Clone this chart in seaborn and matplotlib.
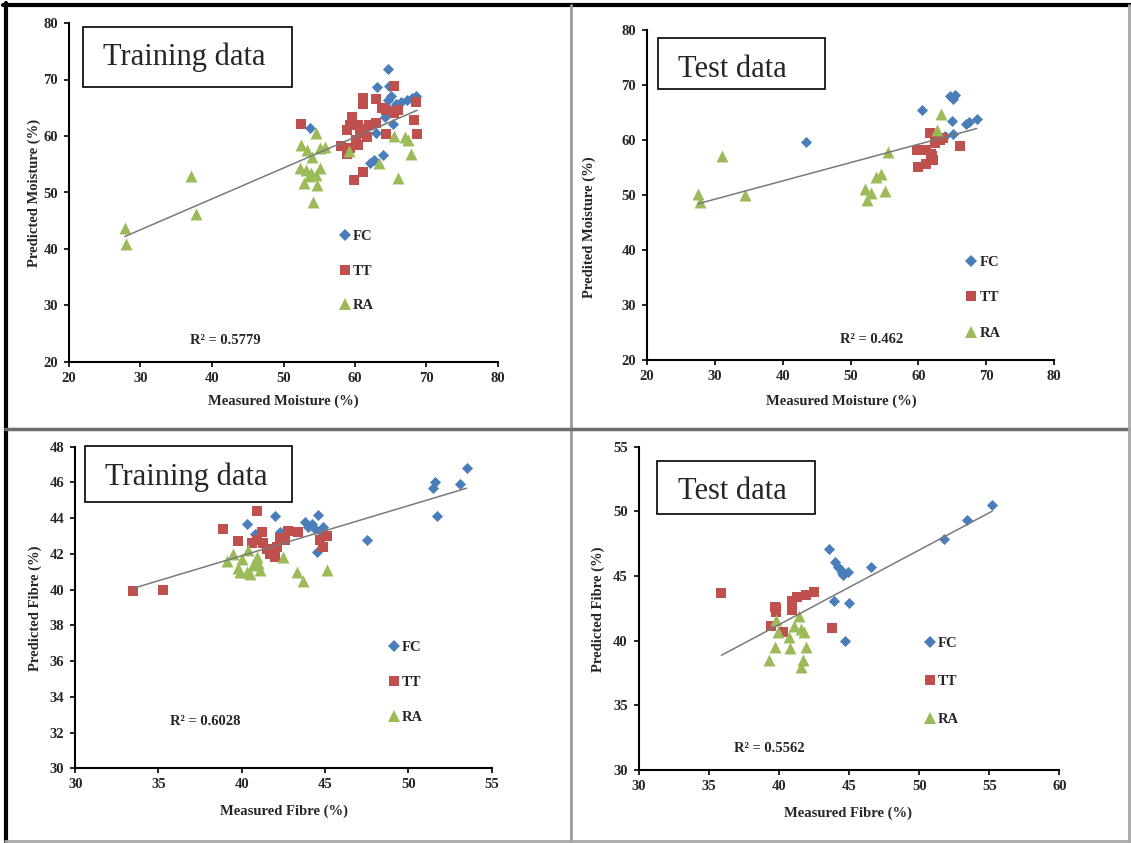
import numpy as np
import pandas as pd
import matplotlib
matplotlib.use("Agg")
import matplotlib.pyplot as plt
import seaborn as sns
from matplotlib.lines import Line2D
from matplotlib.patches import Rectangle

# ---------------- data ----------------
groups = ["FC", "TT", "RA"]

# Panel 1: moisture, training
m_train_fc_x = [64.6, 63.1, 64.7, 65.1, 64.6, 65.8, 66.5, 67.3, 68.0, 68.6, 65.5, 64.2, 65.3, 62.9, 63.9, 62.6, 62.1, 53.7]
m_train_fc_y = [71.8, 68.6, 68.8, 67.0, 66.3, 65.6, 66.0, 66.3, 66.8, 67.1, 64.9, 63.4, 62.2, 60.6, 56.6, 55.7, 55.3, 61.5]
m_train_tt_x = [52.4, 65.5, 61.1, 61.1, 63.0, 63.8, 64.3, 65.5, 66.0, 68.6, 68.2, 68.7, 64.3, 59.6, 59.3, 58.9, 60.4, 61.2,
                62.0, 63.0, 60.7, 61.7, 60.2, 58.1, 59.3, 60.4, 58.9, 61.1, 59.9, 61.2]
m_train_tt_y = [62.1, 68.8, 66.8, 65.6, 66.5, 65.0, 64.6, 64.0, 64.6, 66.0, 62.8, 60.4, 60.3, 63.3, 61.9, 61.0, 61.9, 61.3,
                61.9, 62.3, 60.5, 59.9, 59.3, 58.2, 57.8, 58.4, 56.9, 53.7, 52.2, 60.8]
m_train_ra_x = [27.8, 28.0, 37.0, 37.8, 52.4, 53.3, 54.6, 55.1, 55.8, 54.0, 52.3, 53.2, 53.8, 54.6, 55.1, 52.8, 53.5, 54.7,
                54.1, 59.1, 63.4, 65.5, 67.0, 67.4, 67.8, 66.0]
m_train_ra_y = [43.7, 40.9, 53.0, 46.2, 58.4, 57.6, 60.6, 57.8, 58.1, 56.3, 54.4, 54.0, 53.4, 53.1, 54.3, 51.7, 52.9, 51.3,
                48.4, 57.4, 55.3, 60.0, 59.9, 59.3, 56.8, 52.5]

# Panel 2: moisture, test
m_test_fc_x = [43.5, 60.5, 64.7, 65.4, 65.1, 64.9, 67.1, 67.5, 68.6, 65.1, 64.0]
m_test_fc_y = [59.6, 65.5, 68.0, 68.1, 67.5, 63.5, 62.9, 63.3, 63.8, 61.0, 60.7]
m_test_tt_x = [59.8, 60.0, 61.2, 61.2, 61.7, 62.0, 62.2, 62.5, 62.5, 63.2, 63.7, 66.2, 61.8]
m_test_tt_y = [58.1, 55.1, 55.7, 58.2, 61.2, 57.0, 56.4, 59.4, 60.0, 60.0, 60.3, 58.9, 57.5]
m_test_ra_x = [27.5, 27.8, 31.0, 34.4, 52.2, 53.0, 52.5, 53.8, 54.5, 55.1, 55.5, 62.7, 63.4]
m_test_ra_y = [50.2, 48.8, 57.0, 50.0, 51.0, 50.3, 49.1, 53.2, 53.8, 50.8, 57.9, 61.9, 64.8]

# Panel 3: fibre, training
f_train_fc_x = [53.5, 53.1, 51.6, 51.5, 51.7, 47.5, 44.6, 42.0, 40.3, 40.8, 43.8, 44.0, 44.2, 44.4, 44.7, 44.9, 44.5, 42.3]
f_train_fc_y = [46.8, 45.9, 46.0, 45.7, 44.1, 42.8, 44.2, 44.1, 43.7, 43.1, 43.8, 43.5, 43.7, 43.4, 43.3, 43.5, 42.1, 43.2]
f_train_tt_x = [33.5, 35.3, 38.9, 39.8, 40.9, 41.2, 41.3, 41.7, 42.1, 42.3, 42.8, 43.4, 44.7, 44.9, 45.1, 40.9, 40.6, 41.5,
                42.0, 42.6]
f_train_tt_y = [39.9, 40.0, 43.4, 42.7, 44.4, 43.2, 42.6, 42.0, 42.4, 42.9, 43.3, 43.2, 42.8, 42.4, 43.0, 42.8, 42.6, 42.3,
                41.8, 42.8]
f_train_ra_x = [39.5, 39.1, 40.4, 39.8, 40.3, 40.7, 41.1, 40.9, 42.5, 43.3, 43.7, 45.1, 40.0, 40.5, 39.9, 41.0]
f_train_ra_y = [42.0, 41.6, 42.2, 41.2, 41.0, 41.4, 41.1, 41.8, 41.8, 41.0, 40.5, 41.1, 41.7, 40.9, 41.0, 41.5]

# Panel 4: fibre, test
f_test_fc_x = [55.2, 53.4, 51.8, 46.6, 43.6, 44.0, 44.2, 44.4, 44.5, 44.9, 43.9, 45.0, 44.7, 44.6]
f_test_fc_y = [50.5, 49.3, 47.9, 45.7, 47.1, 46.1, 45.7, 45.5, 45.2, 45.3, 43.1, 42.9, 40.0, 45.1]
f_test_tt_x = [35.9, 39.7, 39.8, 39.4, 40.3, 40.9, 40.9, 41.3, 41.9, 42.5, 43.8, 40.9, 39.8]
f_test_tt_y = [43.7, 42.6, 42.2, 41.1, 40.7, 43.1, 42.5, 43.4, 43.5, 43.8, 41.0, 42.4, 42.5]
f_test_ra_x = [39.3, 39.8, 39.9, 39.7, 40.7, 40.8, 41.1, 41.4, 41.6, 41.8, 41.9, 41.7, 41.6]
f_test_ra_y = [38.5, 41.6, 40.7, 39.5, 40.3, 39.4, 41.1, 41.9, 40.9, 40.7, 39.5, 38.5, 38.0]

panel_titles = ["Training data", "Test data", "Training data", "Test data"]
x_labels = ["Measured Moisture (%)", "Measured Moisture (%)", "Measured Fibre (%)", "Measured Fibre (%)"]
y_labels = ["Predicted Moisture (%)", "Predited Moisture (%)", "Predicted Fibre (%)", "Predicted Fibre (%)"]
r2_labels = ["R\u00b2 = 0.5779", "R\u00b2 = 0.462", "R\u00b2 = 0.6028", "R\u00b2 = 0.5562"]
x_ticks = [[20, 30, 40, 50, 60, 70, 80], [20, 30, 40, 50, 60, 70, 80],
           [30, 35, 40, 45, 50, 55], [30, 35, 40, 45, 50, 55, 60]]
y_ticks = [[20, 30, 40, 50, 60, 70, 80], [20, 30, 40, 50, 60, 70, 80],
           [30, 32, 34, 36, 38, 40, 42, 44, 46, 48], [30, 35, 40, 45, 50, 55]]

panel_data = [
    (m_train_fc_x, m_train_fc_y, m_train_tt_x, m_train_tt_y, m_train_ra_x, m_train_ra_y),
    (m_test_fc_x, m_test_fc_y, m_test_tt_x, m_test_tt_y, m_test_ra_x, m_test_ra_y),
    (f_train_fc_x, f_train_fc_y, f_train_tt_x, f_train_tt_y, f_train_ra_x, f_train_ra_y),
    (f_test_fc_x, f_test_fc_y, f_test_tt_x, f_test_tt_y, f_test_ra_x, f_test_ra_y),
]

# ---------------- style ----------------
sns.set_style("ticks")
plt.rcParams["font.family"] = ["Liberation Serif", "DejaVu Serif"]
plt.rcParams["font.weight"] = "bold"

colors = {"FC": "#4A7EBB", "TT": "#C0504D", "RA": "#9BBB59"}
markers = {"FC": "D", "TT": "s", "RA": "^"}
sizes = {"FC": 32, "TT": 58, "RA": 74}
leg_sizes = {"FC": 6.0, "TT": 7.4, "RA": 8.4}

W, H = 1131, 843
fig = plt.figure(figsize=(W / 100, H / 100), dpi=100)
fig.patch.set_facecolor("white")

def fx(px):
    return px / W

def fy(py):
    return 1 - py / H

# axes extents in pixels: (left, right, top, bottom)
ax_px = [(69, 498, 23, 362), (647, 1054, 30, 360), (75.2, 491.5, 446.7, 768.3), (638.7, 1059.4, 446.7, 770)]
box_px = [(82.9, 291.9, 26.7, 86.7), (658.4, 825.5, 38.3, 89.3), (84.7, 291.9, 446, 502), (657.3, 815.4, 461, 514.3)]
title_px = [(103, 65), (678.4, 76.7), (105.4, 485), (678.4, 499.3)]
legend_px = [(339, 230), (965.6, 256), (388, 641), (924, 637)]
legend_spacing = [1.46, 1.51, 1.49, 1.68]
r2_px = [(225.4, 340.7), (871.6, 339.3), (205.4, 721.7), (769.3, 748.3)]
xlab_px = [(283.5, 395), (841, 395), (283.5, 805), (848.4, 807)]
ylab_px = [(41, 192.5), (596, 227), (42.5, 608), (605, 609.5)]

FS = 10.5

for i in range(4):
    l, r, t, b = ax_px[i]
    ax = fig.add_axes([fx(l), fy(b), (r - l) / W, (b - t) / H])
    fcx, fcy, ttx, tty, rax, ray = panel_data[i]
    df = pd.DataFrame({
        "x": list(fcx) + list(ttx) + list(rax),
        "y": list(fcy) + list(tty) + list(ray),
        "grp": ["FC"] * len(fcx) + ["TT"] * len(ttx) + ["RA"] * len(rax),
    })
    for g in groups:
        sub = df[df["grp"] == g]
        sns.scatterplot(data=sub, x="x", y="y", marker=markers[g], s=sizes[g], color=colors[g],
                        linewidth=0, ax=ax, legend=False, zorder=3)
    sns.regplot(data=df, x="x", y="y", scatter=False, ci=None, truncate=True, color="#7a7a7a",
                line_kws=dict(lw=1.1, zorder=4), ax=ax)

    ax.set_xlim(x_ticks[i][0], x_ticks[i][-1])
    ax.set_ylim(y_ticks[i][0], y_ticks[i][-1])
    ax.set_xticks(x_ticks[i])
    ax.set_yticks(y_ticks[i])
    ax.set_xticklabels([str(v) for v in x_ticks[i]], fontsize=FS, fontweight="bold")
    ax.set_yticklabels([str(v) for v in y_ticks[i]], fontsize=FS, fontweight="bold")
    ax.tick_params(axis="both", direction="out", length=3.5, width=1.2, color="black")
    ax.tick_params(axis="x", pad=3.5)
    ax.tick_params(axis="y", pad=4.5)
    sns.despine(ax=ax)
    for s in ["left", "bottom"]:
        ax.spines[s].set_linewidth(1.5)
        ax.spines[s].set_color("black")
    ax.set_facecolor("white")

    ax.set_xlabel(x_labels[i], fontsize=FS, fontweight="bold")
    ax.set_ylabel(y_labels[i], fontsize=FS, fontweight="bold")
    ax.xaxis.set_label_coords(fx(xlab_px[i][0]), fy(xlab_px[i][1]), transform=fig.transFigure)
    ax.yaxis.set_label_coords(fx(ylab_px[i][0]), fy(ylab_px[i][1]), transform=fig.transFigure)

    handles = [Line2D([], [], ls="none", marker=markers[g], color=colors[g], markeredgewidth=0,
                      markersize=leg_sizes[g]) for g in groups]
    ax.legend(handles, groups, loc="upper left", bbox_to_anchor=(fx(legend_px[i][0]), fy(legend_px[i][1])),
              bbox_transform=fig.transFigure, frameon=False, borderpad=0, borderaxespad=0,
              handlelength=0.8, handletextpad=0.15, labelspacing=legend_spacing[i],
              prop=dict(family="Liberation Serif", weight="bold", size=FS))

    fig.text(fx(r2_px[i][0]), fy(r2_px[i][1]), r2_labels[i], ha="center", va="center",
             fontsize=FS, fontweight="bold")

    bl, br, bt, bb = box_px[i]
    fig.add_artist(Rectangle((fx(bl), fy(bb)), (br - bl) / W, (bb - bt) / H, transform=fig.transFigure,
                             facecolor="white", edgecolor="black", linewidth=1.2, zorder=5))
    fig.text(fx(title_px[i][0]), fy(title_px[i][1]), panel_titles[i], ha="left", va="baseline",
             fontsize=22, fontweight="normal", family="Liberation Serif", zorder=6)

# frame lines (table-like borders)
def hline(y, x0, x1, c, lw):
    fig.add_artist(Line2D([fx(x0), fx(x1)], [fy(y), fy(y)], transform=fig.transFigure, color=c, lw=lw, zorder=7))

def vline(x, y0, y1, c, lw):
    fig.add_artist(Line2D([fx(x), fx(x)], [fy(y0), fy(y1)], transform=fig.transFigure, color=c, lw=lw, zorder=7))

hline(5, 3, 1131, "black", 3)
vline(5.5, 3, 843, "black", 3)
vline(570.5, 5, 843, "#9a9a9a", 2)
hline(428.5, 5, 1131, "#6e6e6e", 2.5)
hline(841, 5, 1131, "#a8a8a8", 2)
vline(1129, 5, 843, "#a8a8a8", 2)

fig.savefig("out.png", dpi=100, facecolor="white")
